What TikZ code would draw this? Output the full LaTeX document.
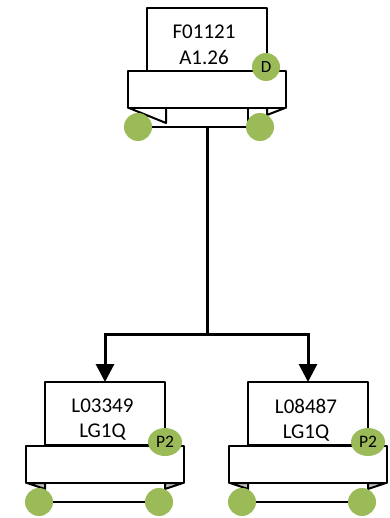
\documentclass[tikz,border=0pt]{standalone}
\usepackage{fontspec}
\setmainfont{Carlito}
\usetikzlibrary{arrows.meta,shapes.geometric}
\definecolor{pgreen}{HTML}{9BBB59}
\definecolor{tgray}{HTML}{BFBFBF}
\tikzset{
  x=1pt,y=-1pt,
  ln/.style={draw=black,line width=2pt,line join=round},
  upper/.style={ln,fill=white,minimum width=120pt,minimum height=63pt,inner sep=0pt,outer sep=0pt},
  band/.style={ln,fill=white,minimum width=158pt,minimum height=37pt,inner sep=0pt,outer sep=0pt},
  lower/.style={ln,fill=white,minimum width=120pt,minimum height=19pt,inner sep=0pt,outer sep=0pt},
  label/.style={inner sep=0pt,align=center,font=\fontsize{21}{25}\selectfont},
  port/.style={circle,fill=pgreen,minimum size=28pt,inner sep=0pt},
  tag/.style={ellipse,fill=pgreen,minimum width=34pt,minimum height=28pt,inner sep=0pt,font=\fontsize{17.5}{20}\selectfont},
  dtag/.style={circle,fill=pgreen,minimum size=28pt,inner sep=0pt,font=\fontsize{17}{20}\selectfont},
  wire/.style={draw=black,line width=3pt},
  arrow/.style={wire,-{Triangle[length=18pt,width=18pt]}}
}
\begin{document}
\begin{tikzpicture}
\useasboundingbox (0,0) rectangle (389,518);
% top unit
\node[lower] (tl) at (207,117.5) {};
\node[upper] (tu) at (207,39.5) {};
\draw[ln,fill=white] (129,108) -- (166,123) -- (166,108) -- cycle;
\draw[ln,fill=white] (285,108) -- (267,115) -- (267,108) -- cycle;
\draw[ln] (248,108) -- (248,127);
\node[band] (tb) at (207,89.5) {};
\node[label] (tt) at (204,45) {F01121\\[1pt]A1.26};
\coordinate (branch) at (207,334);
% left unit
\node[lower] (ll) at (105,492.5) {};
\node[upper] (lu) at (105,413.5) {};
\draw[ln,fill=tgray] (27,483) -- (45,489) -- (45,483) -- cycle;
\draw[ln,fill=tgray] (183,483) -- (165,489) -- (165,483) -- cycle;
\node[band] (lb) at (105,464) {};
\node[label] (lt) at (102.5,420) {L03349\\LG1Q};
% right unit
\node[lower] (rl) at (308,492.5) {};
\node[upper] (ru) at (308,413.5) {};
\draw[ln,fill=tgray] (230,483) -- (248,489) -- (248,483) -- cycle;
\draw[ln,fill=tgray] (386,483) -- (368,489) -- (368,483) -- cycle;
\node[band] (rb) at (308,464) {};
\node[label] (rt) at (306,420) {L08487\\LG1Q};
% connectors
\draw[wire] (tl.south) -- (branch);
\draw[arrow] (branch) -| (lu.north);
\draw[arrow] (branch) -| (ru.north);
% ports
\node[port] (p1) at (138,127) {};
\node[port] (p2) at (260,127) {};
\node[dtag] (d) at (266,67) {D};
\node[port] (p3) at (39,502) {};
\node[port] (p4) at (159,502) {};
\node[tag] (t1) at (165,442) {P2};
\node[port] (p5) at (242,502) {};
\node[port] (p6) at (362,502) {};
\node[tag] (t2) at (368,442) {P2};
\end{tikzpicture}
\end{document}
